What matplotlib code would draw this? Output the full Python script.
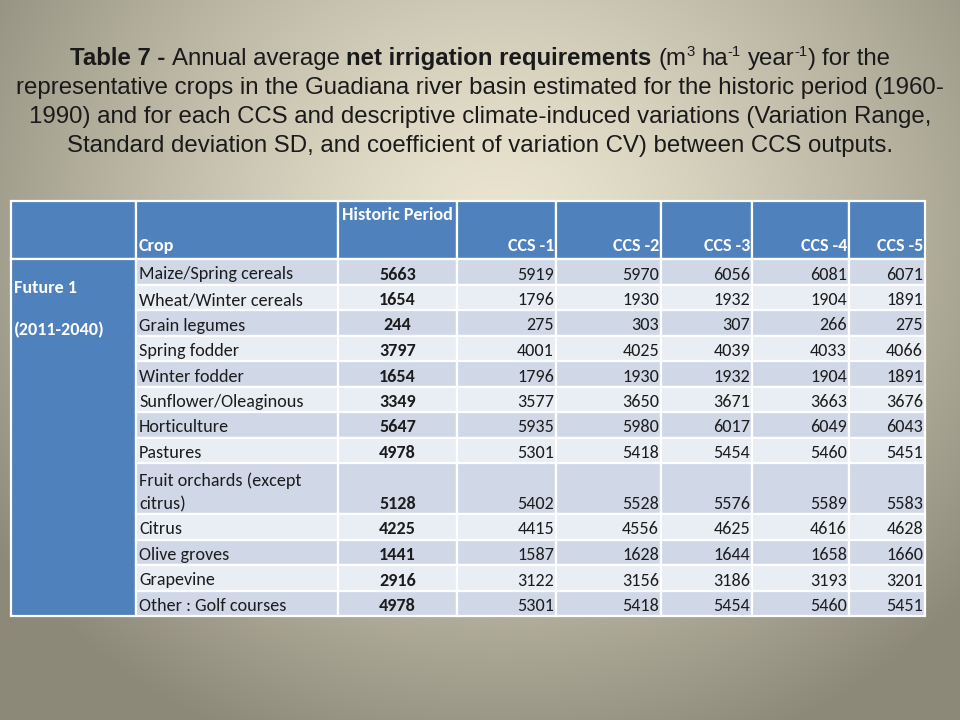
import numpy as np
import matplotlib
matplotlib.use("Agg")
import matplotlib.pyplot as plt
from matplotlib import font_manager as fm
from matplotlib.patches import Rectangle

# ---------------- data ----------------
group_label = "Future 1"
group_period = "(2011-2040)"
col_headers = ["Crop", "Historic Period", "CCS -1", "CCS -2", "CCS -3", "CCS -4", "CCS -5"]
crops = ["Maize/Spring cereals", "Wheat/Winter cereals", "Grain legumes", "Spring fodder",
         "Winter fodder", "Sunflower/Oleaginous", "Horticulture", "Pastures",
         "Fruit orchards (except\ncitrus)", "Citrus", "Olive groves", "Grapevine",
         "Other : Golf courses"]
historic = [5663, 1654, 244, 3797, 1654, 3349, 5647, 4978, 5128, 4225, 1441, 2916, 4978]
ccs1 = [5919, 1796, 275, 4001, 1796, 3577, 5935, 5301, 5402, 4415, 1587, 3122, 5301]
ccs2 = [5970, 1930, 303, 4025, 1930, 3650, 5980, 5418, 5528, 4556, 1628, 3156, 5418]
ccs3 = [6056, 1932, 307, 4039, 1932, 3671, 6017, 5454, 5576, 4625, 1644, 3186, 5454]
ccs4 = [6081, 1904, 266, 4033, 1904, 3663, 6049, 5460, 5589, 4616, 1658, 3193, 5460]
ccs5 = [6071, 1891, 275, 4066, 1891, 3676, 6043, 5451, 5583, 4628, 1660, 3201, 5451]

# ---------------- fonts ----------------
def have(name):
    try:
        fm.findfont(fm.FontProperties(family=name), fallback_to_default=False)
        return True
    except Exception:
        return False

title_font = "Liberation Sans Narrow" if have("Liberation Sans Narrow") else "Liberation Sans"
body_font = "Carlito" if have("Carlito") else "Lato"

W, H = 960, 720
fig = plt.figure(figsize=(W / 100, H / 100), dpi=100)
ax = fig.add_axes([0, 0, 1, 1])
ax.set_xlim(0, W)
ax.set_ylim(H, 0)
ax.axis("off")

# ---------------- background radial gradient ----------------
yy, xx = np.mgrid[0:H, 0:W]
r = np.sqrt(((xx - 500) / 620.0) ** 2 + ((yy - 230) / 560.0) ** 2)
t = np.clip(r, 0, 1) ** 1.3
light = np.array([236, 230, 209]) / 255.0
dark = np.array([140, 137, 121]) / 255.0
img = light[None, None, :] * (1 - t[..., None]) + dark[None, None, :] * t[..., None]
ax.imshow(img, extent=(0, W, H, 0), zorder=0, interpolation="bilinear")
ax.set_xlim(0, W)
ax.set_ylim(H, 0)

renderer = fig.canvas.get_renderer()

# ---------------- title ----------------
tcol = "#1a1a1a"
tsize = 17.3

def width_of(s, weight="normal", size=tsize):
    tt = ax.text(0, 0, s, fontsize=size, family=title_font, weight=weight)
    w = tt.get_window_extent(renderer).width
    tt.remove()
    return w

space_w = width_of("a a") - width_of("aa")

line1 = [("Table 7 -", "bold", False), (None, None, None), ("Annual average", "normal", False),
         (None, None, None), ("net irrigation requirements", "bold", False), (None, None, None),
         ("(m", "normal", False), ("3", "normal", True), (None, None, None), ("ha", "normal", False),
         ("-1", "normal", True), (None, None, None), ("year", "normal", False), ("-1", "normal", True),
         (")", "normal", False), (None, None, None), ("for the", "normal", False)]
sup_size = tsize * 0.62
widths = []
for s, wgt, sup in line1:
    if s is None:
        widths.append(space_w)
    else:
        widths.append(width_of(s, wgt, sup_size if sup else tsize))
x = 480 - sum(widths) / 2
base1 = 65
for (s, wgt, sup), w in zip(line1, widths):
    if s is not None:
        ax.text(x, base1 - (9 if sup else 0), s, fontsize=sup_size if sup else tsize,
                family=title_font, weight=wgt, color=tcol, ha="left", va="baseline", zorder=5)
    x += w

other_lines = ["representative crops in the Guadiana river basin estimated for the historic period (1960-",
               "1990) and for each CCS and descriptive climate-induced variations (Variation Range,",
               "Standard deviation SD, and coefficient of variation CV) between CCS outputs."]
for i, s in enumerate(other_lines):
    ax.text(480, base1 + 29 * (i + 1), s, fontsize=tsize, family=title_font, color=tcol,
            ha="center", va="baseline", zorder=5)

# ---------------- table ----------------
blue = "#4F81BD"
row_dark = "#D0D8E8"
row_light = "#E9EDF4"
txt = "#1c1c1c"
fs = 13.1
col_edges = [11, 136, 338, 457, 556, 661, 752, 849, 925]
top, head_bot = 201, 259
unit = 25.5
row_units = [2 if "\n" in c else 1 for c in crops]
row_tops = [head_bot]
for u in row_units:
    row_tops.append(row_tops[-1] + unit * u)
table_bot = row_tops[-1]

# header cells
for i in range(len(col_edges) - 1):
    ax.add_patch(Rectangle((col_edges[i], top), col_edges[i + 1] - col_edges[i], head_bot - top,
                           facecolor=blue, edgecolor="white", lw=1.6, zorder=2))
# group cell
ax.add_patch(Rectangle((col_edges[0], head_bot), col_edges[1] - col_edges[0], table_bot - head_bot,
                       facecolor=blue, edgecolor="white", lw=1.6, zorder=2))
# data cells
for ri in range(len(crops)):
    fc = row_dark if ri % 2 == 0 else row_light
    for ci in range(1, len(col_edges) - 1):
        ax.add_patch(Rectangle((col_edges[ci], row_tops[ri]), col_edges[ci + 1] - col_edges[ci],
                               row_tops[ri + 1] - row_tops[ri], facecolor=fc, edgecolor="white",
                               lw=1.6, zorder=2))

# header texts
hb = 251
ax.text(col_edges[1] + 3, hb, col_headers[0], fontsize=fs, family=body_font, weight="bold",
        color="white", ha="left", va="baseline", zorder=5)
ax.text((col_edges[2] + col_edges[3]) / 2, 220, col_headers[1], fontsize=fs, family=body_font,
        weight="bold", color="white", ha="center", va="baseline", zorder=5)
for k, h in enumerate(col_headers[2:]):
    ax.text(col_edges[4 + k] - 2, hb, h, fontsize=fs, family=body_font, weight="bold",
            color="white", ha="right", va="baseline", zorder=5)

ax.text(col_edges[0] + 3, 293, group_label, fontsize=fs, family=body_font, weight="bold",
        color="white", ha="left", va="baseline", zorder=5)
ax.text(col_edges[0] + 3, 335, group_period, fontsize=fs, family=body_font, weight="bold",
        color="white", ha="left", va="baseline", zorder=5)

series = [ccs1, ccs2, ccs3, ccs4, ccs5]
for ri, crop in enumerate(crops):
    base = row_tops[ri + 1] - 5
    lines = crop.split("\n")
    for li, ln in enumerate(reversed(lines)):
        ax.text(col_edges[1] + 3, base - 23 * li, ln, fontsize=fs, family=body_font, color=txt,
                ha="left", va="baseline", zorder=5)
    ax.text((col_edges[2] + col_edges[3]) / 2, base, str(historic[ri]), fontsize=fs,
            family=body_font, weight="bold", color=txt, ha="center", va="baseline", zorder=5)
    for k, s in enumerate(series):
        ax.text(col_edges[4 + k] - 2, base, str(s[ri]), fontsize=fs, family=body_font,
                color=txt, ha="right", va="baseline", zorder=5)

fig.savefig("out.png", dpi=100)
